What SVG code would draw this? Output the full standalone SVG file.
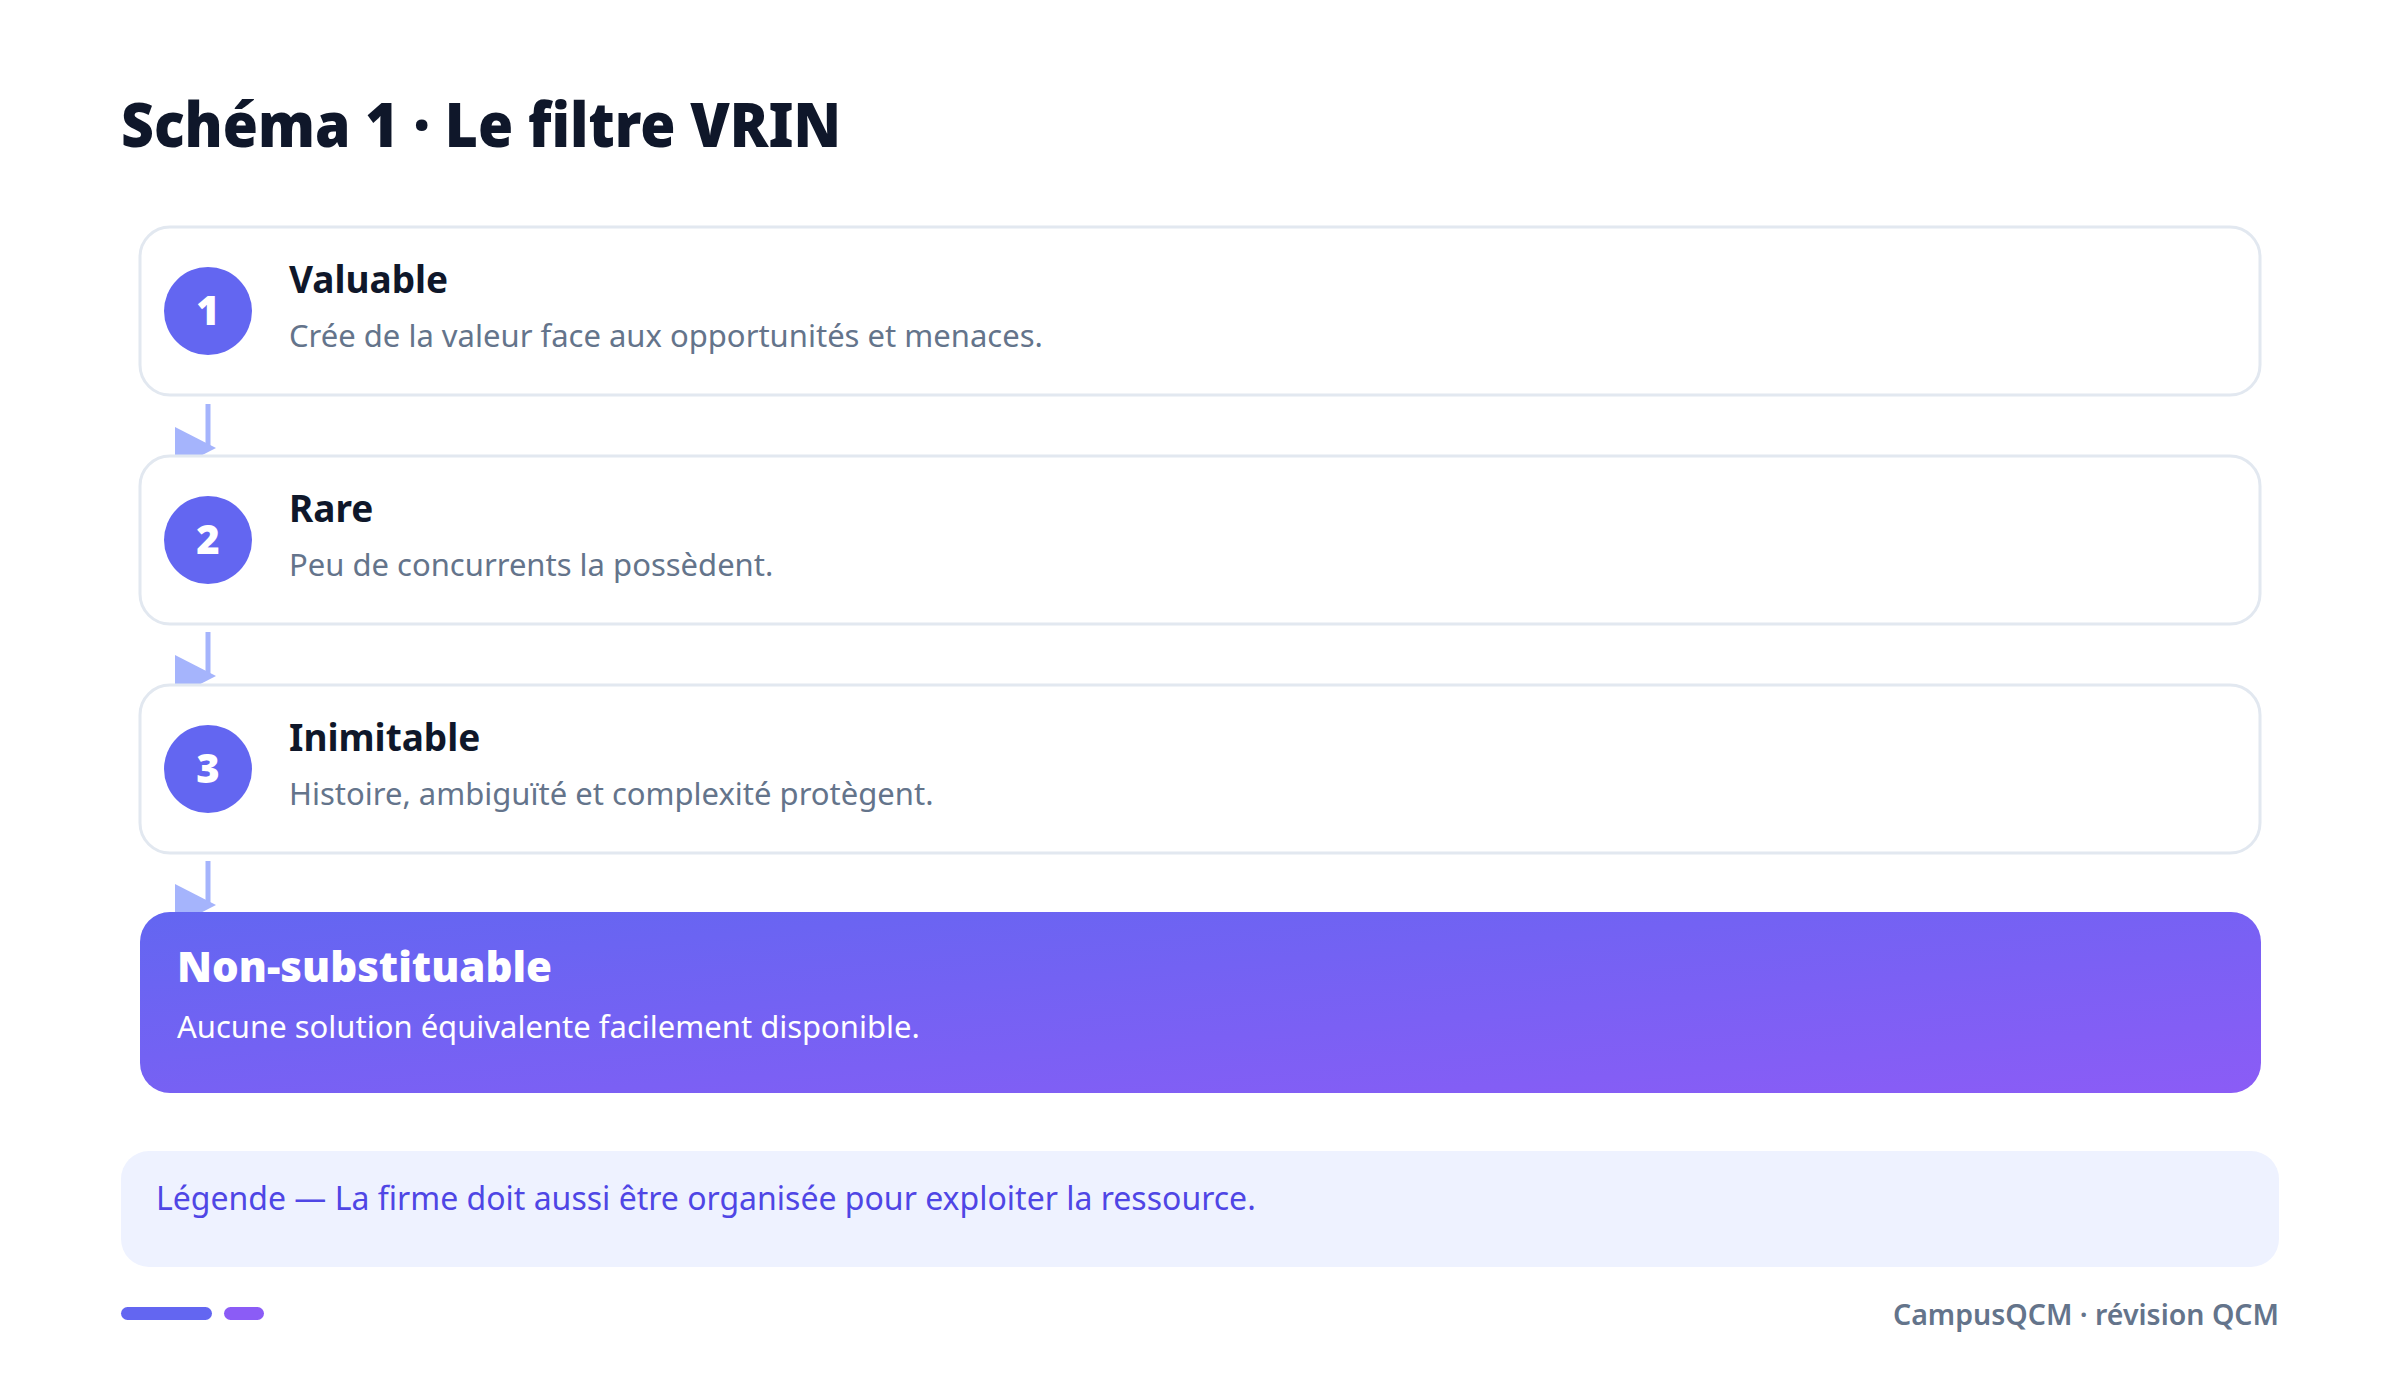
<svg xmlns="http://www.w3.org/2000/svg" width="2400" height="1375" viewBox="0 0 2400 1375">
  <defs>
    <linearGradient id="grad" x1="0" y1="0" x2="1" y2="1">
      <stop offset="0" stop-color="#6366F1"/>
      <stop offset="1" stop-color="#8B5CF6"/>
    </linearGradient>
    <marker id="arrow" markerUnits="userSpaceOnUse" markerWidth="42" markerHeight="42" refX="33" refY="21" orient="0">
      <path d="M0,0 L41,21 L0,42 Z" fill="#A5B4FC"/>
    </marker>
    <style>
      .card { fill: #FFFFFF; stroke: #E2E8F0; stroke-width: 3; }
      .badge { fill: #6366F1; }
      .num { font-family: "Noto Sans", "Open Sans", sans-serif; font-weight: 900; font-size: 40px; fill: #FFFFFF; text-anchor: middle; }
      .ttl { font-family: "Noto Sans", "Open Sans", sans-serif; font-weight: 700; font-size: 37px; fill: #0F172A; }
      .desc { font-family: "Noto Sans", "Open Sans", sans-serif; font-weight: 400; font-size: 31px; fill: #64748B; }
      .conn { stroke: #A5B4FC; stroke-width: 5; fill: none; }
    </style>
  </defs>
  <rect width="2400" height="1375" fill="#FFFFFF"/>
  <text id="title" x="121" y="147" font-family="'Noto Sans', 'Open Sans', sans-serif" font-weight="900" font-size="62" fill="#0F172A" textLength="720" lengthAdjust="spacingAndGlyphs">Schéma 1 · Le filtre VRIN</text>

  <g id="connectors">
    <line class="conn" x1="208" y1="404" x2="208" y2="448" marker-end="url(#arrow)"/>
    <line class="conn" x1="208" y1="632" x2="208" y2="676" marker-end="url(#arrow)"/>
    <line class="conn" x1="208" y1="861" x2="208" y2="905" marker-end="url(#arrow)"/>
  </g>

  <g id="node-valuable">
    <rect class="card" x="140" y="227" width="2120" height="168" rx="30"/>
    <circle class="badge" cx="208" cy="311" r="44"/>
    <text class="num" x="208" y="325">1</text>
    <text class="ttl" x="289" y="293">Valuable</text>
    <text class="desc" x="289" y="347">Crée de la valeur face aux opportunités et menaces.</text>
  </g>

  <g id="node-rare">
    <rect class="card" x="140" y="456" width="2120" height="168" rx="30"/>
    <circle class="badge" cx="208" cy="540" r="44"/>
    <text class="num" x="208" y="554">2</text>
    <text class="ttl" x="289" y="522">Rare</text>
    <text class="desc" x="289" y="576">Peu de concurrents la possèdent.</text>
  </g>

  <g id="node-inimitable">
    <rect class="card" x="140" y="685" width="2120" height="168" rx="30"/>
    <circle class="badge" cx="208" cy="769" r="44"/>
    <text class="num" x="208" y="783">3</text>
    <text class="ttl" x="289" y="751">Inimitable</text>
    <text class="desc" x="289" y="805">Histoire, ambiguïté et complexité protègent.</text>
  </g>

  <g id="node-nonsubstituable">
    <rect x="140" y="912" width="2121" height="181" rx="30" fill="url(#grad)"/>
    <text x="177" y="982" font-family="'Noto Sans', 'Open Sans', sans-serif" font-weight="900" font-size="42" fill="#FFFFFF">Non-substituable</text>
    <text x="177" y="1038" font-family="'Noto Sans', 'Open Sans', sans-serif" font-size="31" fill="#FFFFFF">Aucune solution équivalente facilement disponible.</text>
  </g>

  <g id="legend">
    <rect x="121" y="1151" width="2158" height="116" rx="28" fill="#EEF2FF"/>
    <text x="156" y="1210" font-family="'Noto Sans', 'Open Sans', sans-serif" font-size="32" fill="#4F46E5">Légende — La firme doit aussi être organisée pour exploiter la ressource.</text>
  </g>

  <g id="footer">
    <rect x="121" y="1307" width="91" height="13" rx="6.5" fill="#6366F1"/>
    <rect x="224" y="1307" width="40" height="13" rx="6.5" fill="#8B5CF6"/>
    <text x="2279" y="1325" text-anchor="end" font-family="'Noto Sans', 'Open Sans', sans-serif" font-weight="600" font-size="28.5" fill="#64748B">CampusQCM · révision QCM</text>
  </g>
</svg>
